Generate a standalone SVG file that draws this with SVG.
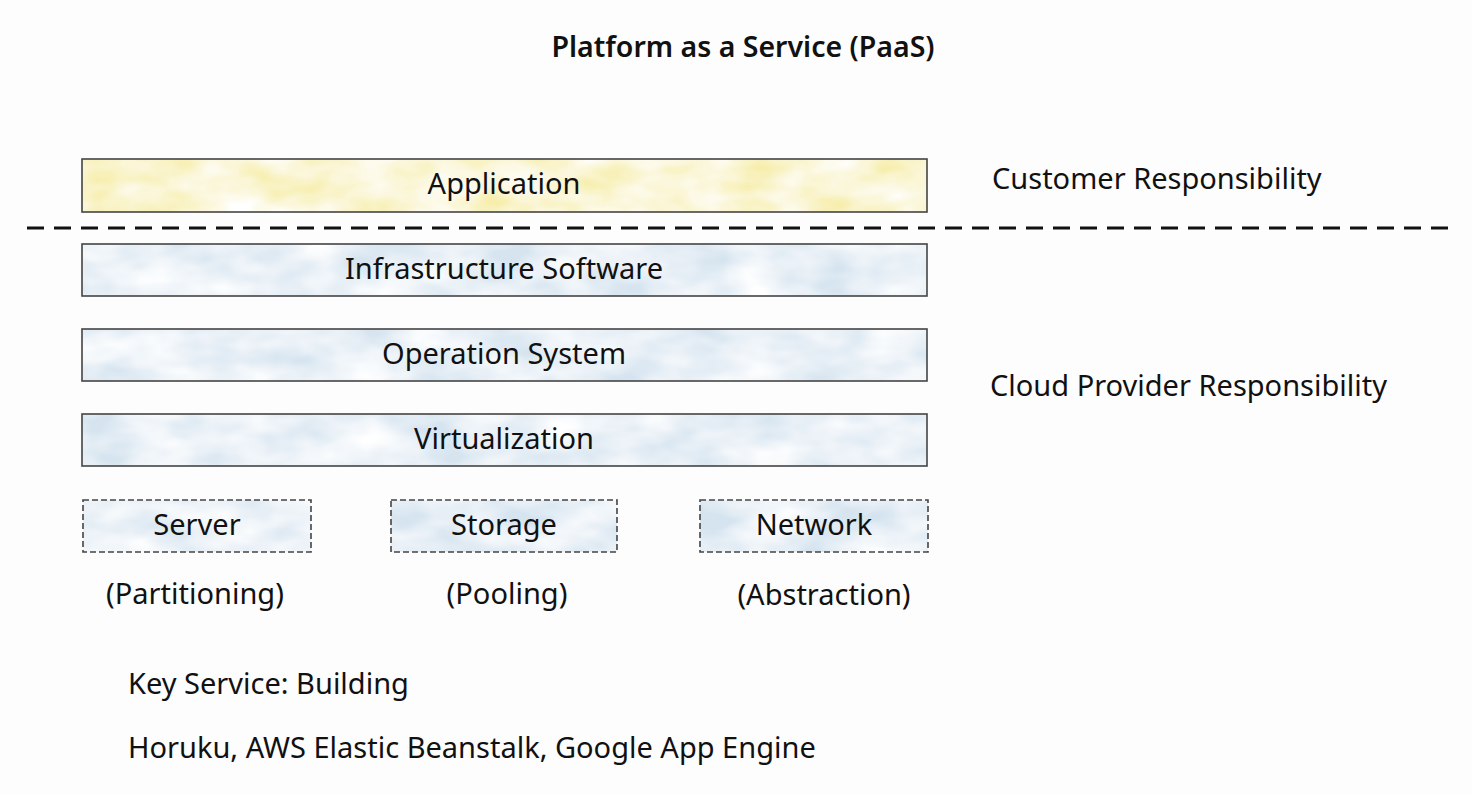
<svg xmlns="http://www.w3.org/2000/svg" width="1472" height="794" viewBox="0 0 1472 794">
<defs>
<filter id="wash" x="0" y="0" width="100%" height="100%">
<feTurbulence type="fractalNoise" baseFrequency="0.015 0.03" numOctaves="3" seed="4" result="n"/>
<feColorMatrix in="n" type="matrix" values="0 0 0 0 1  0 0 0 0 1  0 0 0 0 1  0 0 0 -1.6 1.25" result="w"/>
<feComposite in="w" in2="SourceGraphic" operator="in" result="wc"/>
<feMerge><feMergeNode in="SourceGraphic"/><feMergeNode in="wc"/></feMerge>
</filter>
<style>
.fillb{fill:#d6e4f0}
.filly{fill:#f7eeaa}
.edge{fill:none;stroke:#444;stroke-width:1.6}
.dash{stroke-dasharray:6 3}
.lbl{font-family:"Noto Sans","Open Sans",sans-serif;font-size:29px;fill:#111;text-anchor:middle}
.txt{font-family:"Noto Sans","Open Sans",sans-serif;font-size:29px;fill:#111}
.title{font-family:"Noto Sans","Open Sans",sans-serif;font-size:28.5px;font-weight:600;fill:#111;text-anchor:middle}
</style>
</defs>
<rect width="1472" height="794" fill="#fdfdfd"/>
<text class="title" x="743" y="57">Platform as a Service (PaaS)</text>
<g id="application"><rect class="filly" x="82" y="159" width="845" height="53" filter="url(#wash)"/><rect class="edge" x="82" y="159" width="845" height="53"/><text class="lbl" x="504" y="194">Application</text></g>
<g id="connectors"><line x1="27" y1="228" x2="1458" y2="228" stroke="#111" stroke-width="3" stroke-dasharray="17 10"/></g>
<g id="infra"><rect class="fillb" x="82" y="244" width="845" height="52" filter="url(#wash)"/><rect class="edge" x="82" y="244" width="845" height="52"/><text class="lbl" x="504" y="279">Infrastructure Software</text></g>
<g id="os"><rect class="fillb" x="82" y="329" width="845" height="52" filter="url(#wash)"/><rect class="edge" x="82" y="329" width="845" height="52"/><text class="lbl" x="504" y="364">Operation System</text></g>
<g id="virt"><rect class="fillb" x="82" y="414" width="845" height="52" filter="url(#wash)"/><rect class="edge" x="82" y="414" width="845" height="52"/><text class="lbl" x="504" y="449">Virtualization</text></g>
<g id="server"><rect class="fillb" x="83" y="500" width="228" height="52" filter="url(#wash)"/><rect class="edge dash" x="83" y="500" width="228" height="52"/><text class="lbl" x="197" y="535">Server</text></g>
<g id="storage"><rect class="fillb" x="391" y="500" width="226" height="52" filter="url(#wash)"/><rect class="edge dash" x="391" y="500" width="226" height="52"/><text class="lbl" x="504" y="535">Storage</text></g>
<g id="network"><rect class="fillb" x="700" y="500" width="228" height="52" filter="url(#wash)"/><rect class="edge dash" x="700" y="500" width="228" height="52"/><text class="lbl" x="814" y="535">Network</text></g>
<text class="lbl" x="195" y="604">(Partitioning)</text>
<text class="lbl" x="507" y="604">(Pooling)</text>
<text class="lbl" x="824" y="605">(Abstraction)</text>
<text class="txt" x="992" y="189">Customer Responsibility</text>
<text class="txt" x="990" y="396">Cloud Provider Responsibility</text>
<text class="txt" x="128" y="694">Key Service: Building</text>
<text class="txt" x="128" y="758">Horuku, AWS Elastic Beanstalk, Google App Engine</text>
</svg>
